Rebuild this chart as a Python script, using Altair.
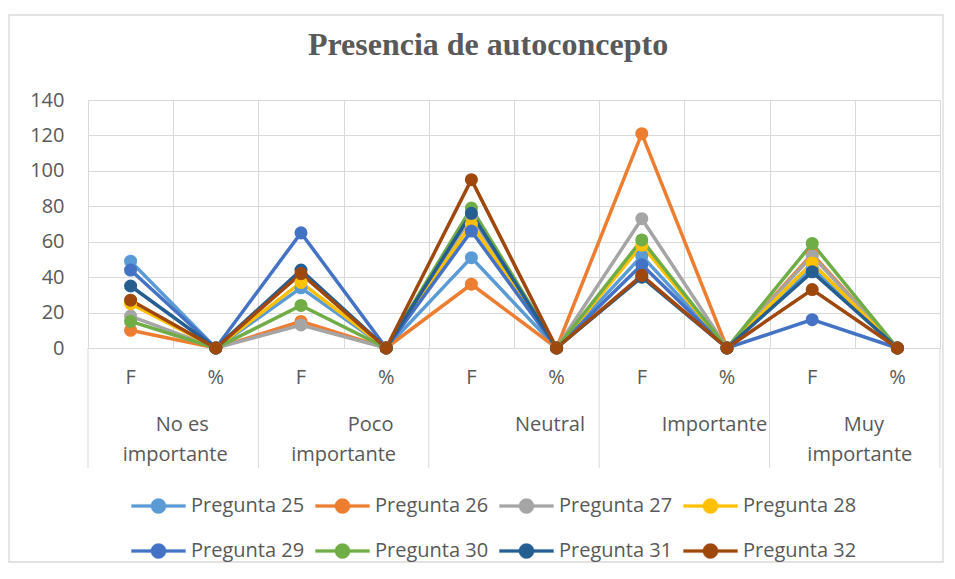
import altair as alt
import pandas as pd

# ---------------- data ----------------
sub_labels = ["F", "%"]
group_lines = [["No es", "importante"], ["Poco", "importante"], ["Neutral", ""],
               ["Importante", ""], ["Muy", "importante"]]

series_names = ["Pregunta 25", "Pregunta 26", "Pregunta 27", "Pregunta 28",
                "Pregunta 29", "Pregunta 30", "Pregunta 31", "Pregunta 32"]
series_colors = ["#5B9BD5", "#ED7D31", "#A5A5A5", "#FFC000",
                 "#4472C4", "#70AD47", "#255E91", "#9E480E"]

p25 = [49, 0, 34, 0, 51, 0, 52, 0, 45, 0]
p26 = [10, 0, 15, 0, 36, 0, 121, 0, 53, 0]
p27 = [18, 0, 13, 0, 74, 0, 73, 0, 52, 0]
p28 = [25, 0, 37, 0, 70, 0, 58, 0, 48, 0]
p29 = [44, 0, 65, 0, 66, 0, 47, 0, 16, 0]
p30 = [15, 0, 24, 0, 79, 0, 61, 0, 59, 0]
p31 = [35, 0, 44, 0, 76, 0, 40, 0, 43, 0]
p32 = [27, 0, 42, 0, 95, 0, 41, 0, 33, 0]
series_values = [p25, p26, p27, p28, p29, p30, p31, p32]

y_ticks = [0, 20, 40, 60, 80, 100, 120, 140]
title_text = "Presencia de autoconcepto"

# ---------------- layout (styling) ----------------
FONT = "Open Sans"
TXT = "#595959"
GRID = "#D9D9D9"
PW, PH = 852, 248
# horizontal shift (px) of each category-label line, as Excel placed them
group_shift_px = [[9, 2], [27, 0], [36, 0], [30, 0], [9, 5]]

# ---------------- tables ----------------
n_groups = len(group_lines)
n_sub = len(sub_labels)
n_pos = n_groups * n_sub
px_per_unit = PW / n_pos

rows = []
for k, (name, vals) in enumerate(zip(series_names, series_values)):
    for i, v in enumerate(vals):
        rows.append({"pos": i, "serie": name, "valor": v, "k": k})
df = pd.DataFrame(rows)

sub_df = pd.DataFrame({"pos": list(range(n_pos)),
                       "lab": [sub_labels[i % n_sub] for i in range(n_pos)]})

grp_rows = []
for g in range(n_groups):
    center = g * n_sub + (n_sub - 1) / 2
    for line in range(2):
        grp_rows.append({"pos": center + group_shift_px[g][line] / px_per_unit,
                         "line": line, "lab": group_lines[g][line]})
grp_df = pd.DataFrame(grp_rows)

cat_bounds = [i - 0.5 for i in range(n_pos + 1)]
grp_bounds = pd.DataFrame({"pos": [g * n_sub - 0.5 for g in range(n_groups + 1)]})

# ---------------- encodings ----------------
x_enc = alt.X("pos:Q",
              scale=alt.Scale(domain=[-0.5, n_pos - 0.5], nice=False, zero=False),
              axis=alt.Axis(values=cat_bounds, labels=False, ticks=False, grid=True,
                            gridColor=GRID, gridWidth=1, domain=True,
                            domainColor=GRID, domainWidth=1, title=None))
y_enc = alt.Y("valor:Q",
              scale=alt.Scale(domain=[0, 140], nice=False),
              axis=alt.Axis(values=y_ticks, domain=False, ticks=False, grid=True,
                            gridColor=GRID, gridWidth=1, labelPadding=24,
                            labelFont=FONT, labelFontSize=20, labelColor=TXT,
                            title=None))
color_scale = alt.Scale(domain=series_names, range=series_colors)

legend_symbol = ("M-1,-0.06H1V0.06H-1Z "
                 "M0.28,0A0.28,0.28 0 1,1 -0.28,0A0.28,0.28 0 1,1 0.28,0Z")
legend = alt.Legend(title=None, orient="none", legendX=43, legendY=391,
                    direction="horizontal", columns=4, symbolType=legend_symbol,
                    symbolSize=2916, symbolStrokeWidth=0.3,
                    labelFont=FONT, labelFontSize=20, labelColor=TXT,
                    labelOffset=5, columnPadding=10, rowPadding=15,
                    clipHeight=30, padding=0)
color_enc = alt.Color("serie:N", scale=color_scale, legend=legend)

border = alt.Chart(pd.DataFrame({"a": [0]})).mark_rect(
    fill=None, stroke=GRID, strokeWidth=1.3
).encode(x=alt.value(-79), x2=alt.value(PW + 3),
         y=alt.value(-85), y2=alt.value(PH + 214))

lines = alt.Chart(df).mark_line(strokeWidth=3.5).encode(
    x=x_enc, y=y_enc, color=color_enc, order=alt.Order("k:Q"),
)

points = alt.Chart(df).mark_point(filled=True, size=170, opacity=1).encode(
    x=x_enc, y=y_enc, color=color_enc, order=alt.Order("k:Q"),
)

sub_text = alt.Chart(sub_df).mark_text(
    font=FONT, fontSize=20, color=TXT, align="center", baseline="middle"
).encode(x=x_enc, y=alt.value(278), text="lab:N")

grp_text1 = alt.Chart(grp_df).transform_filter("datum.line == 0").mark_text(
    font=FONT, fontSize=20, color=TXT, align="center", baseline="middle"
).encode(x=x_enc, y=alt.value(325), text="lab:N")

grp_text2 = alt.Chart(grp_df).transform_filter("datum.line == 1").mark_text(
    font=FONT, fontSize=20, color=TXT, align="center", baseline="middle"
).encode(x=x_enc, y=alt.value(355), text="lab:N")

separators = alt.Chart(grp_bounds).mark_rule(color=GRID, strokeWidth=1).encode(
    x=x_enc, y=alt.value(PH), y2=alt.value(PH + 120)
)

chart = alt.layer(
    border, lines, points, sub_text, grp_text1, grp_text2, separators
).properties(
    width=PW, height=PH,
    title=alt.TitleParams(title_text, font="Liberation Serif", fontSize=32,
                          fontWeight="bold", color=TXT, anchor="middle",
                          baseline="alphabetic", dx=-26, dy=73, offset=0),
    autosize=alt.AutoSizeParams(type="none"),
    padding={"left": 80, "top": 92, "right": 7, "bottom": 223},
).configure_view(stroke=None).configure(background="white")

chart.save("out.html", embed_options={"renderer": "svg", "actions": False})
